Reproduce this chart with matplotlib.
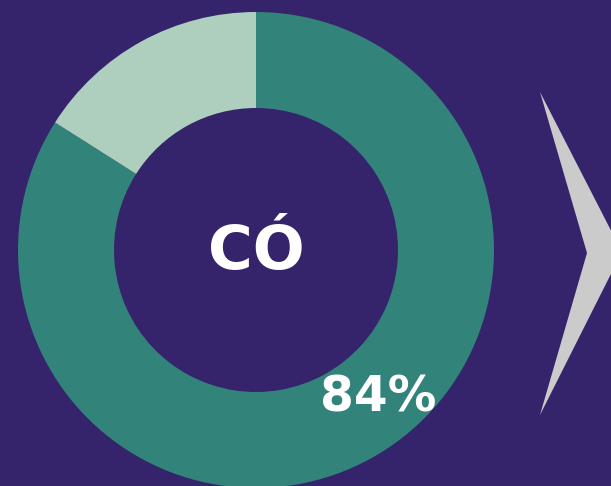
import matplotlib.pyplot as plt
from matplotlib.patches import Polygon

# Donut data
labels = ["Có", "Không"]
shares = [84, 16]
colors = ["#32837a", "#aecfbd"]

bg = "#35246b"

fig = plt.figure(figsize=(6.11, 4.86), dpi=100)
fig.patch.set_facecolor(bg)
ax = fig.add_axes([0, 0, 1, 1])
ax.set_facecolor(bg)

# Ring, clockwise from the top
ax.pie(shares, colors=colors, center=(256, 236), radius=238,
       startangle=90, counterclock=False,
       wedgeprops=dict(width=96, linewidth=0))
ax.set_xlim(0, 611)
ax.set_ylim(0, 486)
ax.set_aspect("equal")
ax.axis("off")

# Center label and share
ax.text(256, 234, "CÓ", color="white", fontsize=44, fontweight="bold",
        family="DejaVu Sans", ha="center", va="center")
ax.text(378, 88, f"{shares[0]}%", color="white", fontsize=35,
        fontweight="bold", family="DejaVu Sans", ha="center", va="center")

# Chevron arrow on the right
chevron = Polygon([(540, 394), (622, 234), (540, 71), (587, 233)],
                  closed=True, facecolor="#cbcbcb", edgecolor="none")
ax.add_patch(chevron)

fig.savefig("out.png", dpi=100, facecolor=bg)
